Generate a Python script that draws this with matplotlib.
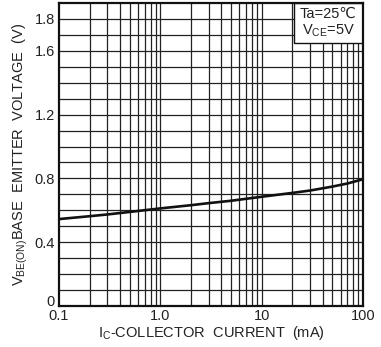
import matplotlib
matplotlib.use('Agg')
import matplotlib.pyplot as plt
import matplotlib.transforms as mtransforms
from matplotlib.patches import Rectangle
import numpy as np

plt.rcParams['font.family'] = ['Liberation Sans', 'DejaVu Sans']
plt.rcParams['mathtext.fontset'] = 'custom'
plt.rcParams['mathtext.rm'] = 'Liberation Sans'

# Ic (mA) vs VBE(ON) (V)
ic_ma = [0.1, 0.2, 0.3, 0.5, 1.0, 2.0, 3.0, 5.0, 10.0, 20.0, 30.0, 50.0, 70.0, 100.0]
vbe_v = [0.545, 0.563, 0.574, 0.590, 0.612, 0.632, 0.645, 0.660, 0.685, 0.709, 0.724, 0.749, 0.768, 0.795]

xticks = [0.1, 1.0, 10, 100]
xtick_labels = ['0.1', '1.0', '10', '100']
yticks = [0, 0.4, 0.8, 1.2, 1.6, 1.8]
ytick_labels = ['0', '0.4', '0.8', '1.2', '1.6', '1.8']

fig = plt.figure(figsize=(3.81, 3.47), dpi=100)
ax = fig.add_axes([59 / 381, 41 / 347, 304 / 381, 303 / 347])

ax.set_xscale('log')
ax.set_xlim(0.1, 100)
ax.set_ylim(0, 1.9)

# grid: every minor decade step on x, every 0.1 V on y
gcol = '#222222'
for dec in [0.1, 1, 10]:
    for m in range(1, 10):
        v = dec * m
        if 0.1 < v < 100:
            ax.axvline(v, color=gcol, lw=0.9, zorder=1)
for y in np.arange(0.1, 1.85, 0.1):
    ax.axhline(y, color=gcol, lw=0.9, zorder=1)

ax.plot(ic_ma, vbe_v, color='#111111', lw=1.9, zorder=3)

ax.set_xticks(xticks)
ax.set_xticklabels(xtick_labels)
ax.xaxis.set_minor_locator(matplotlib.ticker.NullLocator())
ax.set_yticks(yticks)
ax.set_yticklabels(ytick_labels)
ax.tick_params(length=0, labelsize=10.5, colors='#222222')
ax.tick_params(axis='x', pad=2)
ax.tick_params(axis='y', pad=3)

# lift the "0" label a little so it clears "0.1"
zero_lbl = ax.get_yticklabels()[0]
zero_lbl.set_transform(zero_lbl.get_transform() +
                       mtransforms.ScaledTranslation(0, 4 / 72, fig.dpi_scale_trans))

for s in ax.spines.values():
    s.set_linewidth(1.6)
    s.set_color('#111111')
    s.set_zorder(6)

ax.set_xlabel(r'I$_{\mathrm{C}}$-COLLECTOR  CURRENT  (mA)', fontsize=10.5, labelpad=1, color='#222222')
ax.set_ylabel(r'V$_{\mathrm{BE(ON)}}$BASE  EMITTER  VOLTAGE  (V)', fontsize=10.5, labelpad=3, color='#222222')

# condition box in upper right, sharing the frame
ax.add_patch(Rectangle((0.773, 0.868), 0.227, 0.132, transform=ax.transAxes,
                       facecolor='white', edgecolor='#111111', lw=1.0, zorder=4))
ax.text(0.886, 0.934, 'Ta=25\u2103\n' + r'V$_{\mathrm{CE}}$=5V', transform=ax.transAxes,
        ha='center', va='center', fontsize=10.5, linespacing=1.15, color='#222222', zorder=5)

fig.savefig('out.png', dpi=100)
